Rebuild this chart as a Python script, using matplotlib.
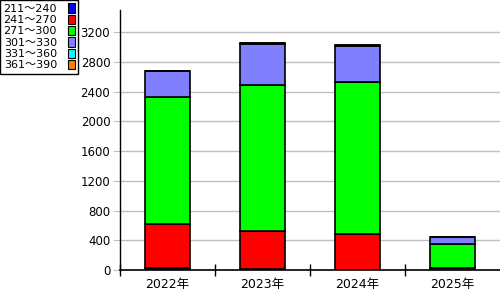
import numpy as np
import matplotlib.pyplot as plt
from matplotlib.patches import Patch

plt.rcParams['font.family'] = ['DejaVu Sans', 'Noto Sans CJK JP']

years = ['2022年', '2023年', '2024年', '2025年']
ranges = ['211～240', '241～270', '271～300', '301～330', '331～360', '361～390']
colors = ['#0000ff', '#ff0000', '#00ff00', '#8080ff', '#00ffff', '#ff8000']

# counts per range, one list per year range bucket
r211_240 = [30, 20, 5, 0]
r241_270 = [592, 507, 477, 30]
r271_300 = [1712, 1969, 2045, 321]
r301_330 = [342, 549, 486, 91]
r331_360 = [0, 10, 10, 0]
r361_390 = [0, 0, 0, 0]
series = [r211_240, r241_270, r271_300, r301_330, r331_360, r361_390]

fig = plt.figure(figsize=(5, 3), dpi=100)
ax = fig.add_axes([0.24, 0.1, 0.76, 0.8667])

x = np.arange(len(years))
bottom = np.zeros(len(years))
for vals, c in zip(series, colors):
    vals = np.array(vals)
    ax.bar(x, vals, 0.47, bottom=bottom, color=c, edgecolor='black',
           linewidth=1.2, zorder=3)
    bottom += vals

ax.set_xlim(-0.5, len(years) - 0.5)
ax.set_ylim(0, 3500)
ax.set_yticks(np.arange(0, 3201, 400))
ax.yaxis.grid(True, color='#c0c0c0', linewidth=1, zorder=0)
ax.tick_params(axis='y', length=5, color='#c0c0c0', labelsize=8.5, pad=2)

ax.set_xticks(x)
ax.set_xticklabels(years, fontsize=9)
ax.set_xticks(np.arange(0, len(years)) - 0.5, minor=True)
ax.tick_params(axis='x', which='major', length=0, pad=6)
ax.tick_params(axis='x', which='minor', length=8, direction='inout', width=1)

for s in ['top', 'right']:
    ax.spines[s].set_visible(False)
ax.spines['left'].set_linewidth(1)
ax.spines['bottom'].set_linewidth(1.2)

handles = [Patch(facecolor=c, edgecolor='black', linewidth=0.8) for c in colors]
leg = fig.legend(handles, ranges, loc='upper left', bbox_to_anchor=(0.0, 1.0),
                 markerfirst=False, fontsize=8, handlelength=0.6,
                 handleheight=0.9, handletextpad=1.0, labelspacing=0.08,
                 borderpad=0.3, borderaxespad=0, fancybox=False, framealpha=1)
leg.get_frame().set_edgecolor('black')
leg.get_frame().set_linewidth(1)

fig.savefig('out.png', dpi=100)
